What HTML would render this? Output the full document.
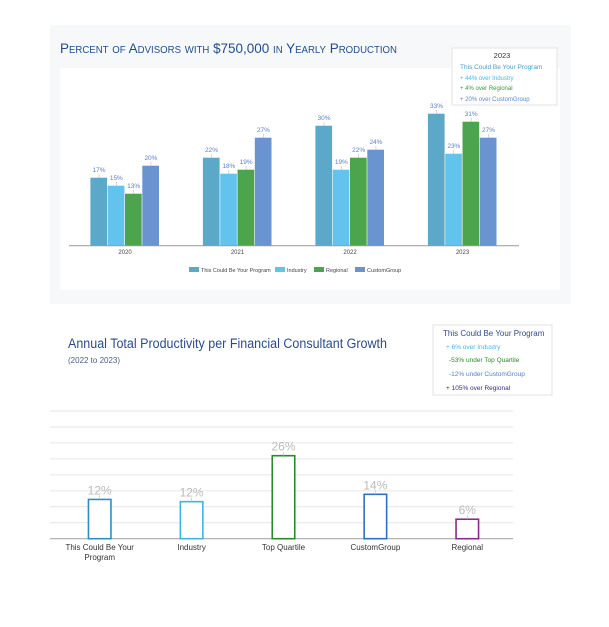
<!DOCTYPE html>
<html><head><meta charset="utf-8"><style>
html,body{margin:0;padding:0;background:#fff;width:609px;height:627px;overflow:hidden}
svg{display:block;font-family:"Liberation Sans",sans-serif}
</style></head><body>
<svg width="609" height="627" viewBox="0 0 609 627" xmlns="http://www.w3.org/2000/svg">
<g>
<rect x="50" y="25" width="521" height="279" fill="#f7f8f9"/>
<rect x="60" y="68" width="500" height="222" fill="#fff"/>
<text x="60" y="53" font-size="14" fill="#1f4e8c" style="font-variant:small-caps" textLength="337" lengthAdjust="spacingAndGlyphs">Percent of Advisors with $750,000 in Yearly Production</text>
<g>
<rect x="452" y="48" width="105" height="57" fill="#fff" stroke="#e3e3e3"/>
<text x="502" y="58" font-size="7.5" fill="#333" text-anchor="middle">2023</text>
<text x="460" y="69" font-size="6.5" fill="#4a9cc6">This Could Be Your Program</text>
<text x="460" y="80" font-size="6" fill="#45b7e6">+ 44% over Industry</text>
<text x="460" y="90" font-size="6" fill="#3a9a3a">+ 4% over Regional</text>
<text x="460" y="101" font-size="6" fill="#5b88cc">+ 20% over CustomGroup</text>
</g>
<g id="topChart"></g>
<g>
<rect x="189" y="267" width="10" height="5" fill="#5ba8c8"/><text x="201" y="272" font-size="5.5" fill="#444">This Could Be Your Program</text>
<rect x="275" y="267" width="10" height="5" fill="#62c4ec"/><text x="287" y="272" font-size="5.5" fill="#444">Industry</text>
<rect x="314" y="267" width="10" height="5" fill="#4ca54c"/><text x="326" y="272" font-size="5.5" fill="#444">Regional</text>
<rect x="355" y="267" width="10" height="5" fill="#6994d0"/><text x="367" y="272" font-size="5.5" fill="#444">CustomGroup</text>
</g>
</g>
<g>
<text x="68" y="348" font-size="13.5" fill="#2a4d8a" textLength="319" lengthAdjust="spacingAndGlyphs">Annual Total Productivity per Financial Consultant Growth</text>
<text x="68" y="363" font-size="8" fill="#4a5f8a">(2022 to 2023)</text>
<g>
<rect x="433" y="325" width="119" height="70" fill="#fff" stroke="#e3e3e3"/>
<text x="443" y="336" font-size="8" fill="#2a4d8a">This Could Be Your Program</text>
<text x="446" y="349" font-size="6.5" fill="#45b7e6">+ 6% over Industry</text>
<text x="449" y="362" font-size="6.5" fill="#2a8a2a">-53% under Top Quartile</text>
<text x="449" y="376" font-size="6.5" fill="#5b7cc6">-12% under CustomGroup</text>
<text x="446" y="390" font-size="6.5" fill="#3a2a8a">+ 105% over Regional</text>
</g>
<g id="botChart"></g>
</g>
</svg>
<script>
// Top chart data
const topYears = ["2020","2021","2022","2023"];
const topSeriesNames = ["This Could Be Your Program","Industry","Regional","CustomGroup"];
const topProgram = [17,22,30,33];
const topIndustry = [15,18,19,23];
const topRegional = [13,19,22,31];
const topCustom = [20,27,24,27];
// Bottom chart data
const botCategories = [["This Could Be Your","Program"],["Industry"],["Top Quartile"],["CustomGroup"],["Regional"]];
const botValues = [12.3,11.6,26,13.9,6.1];
const botLabels = ["12%","12%","26%","14%","6%"];
const botGridTicks = [0,5,10,15,20,25,30,35,40];

const NS="http://www.w3.org/2000/svg";
function mk(tag,attrs,parent){const e=document.createElementNS(NS,tag);for(const k in attrs)e.setAttribute(k,attrs[k]);parent.appendChild(e);return e;}

// top axes
const tBase=245.7, tScale=4.0;
const tY=v=>tBase-v*tScale;
const tX=i=>125+i*112.5;
const tg=document.getElementById('topChart');
const tSeries=[topProgram,topIndustry,topRegional,topCustom];
const tColors=["#5ba8c8","#62c4ec","#4ca54c","#6994d0"];
const bw=17.3;
tSeries.forEach((s,si)=>{
  s.forEach((v,i)=>{
    const x=tX(i)-2*bw+si*bw;
    const r=mk('rect',{x:x,y:tY(v),width:bw-0.6,height:tBase-tY(v),fill:tColors[si]},tg);
    
    
    mk('line',{x1:x+bw/2,x2:x+bw/2,y1:tY(v)-4,y2:tY(v),stroke:'#bbb','stroke-width':0.6},tg);
    const t=mk('text',{x:x+bw/2,y:tY(v)-5.5,'font-size':6.5,fill:'#5a7fc8','text-anchor':'middle'},tg);
    t.textContent=v+'%';
    
    
  });
});
const ax=mk('line',{x1:69,x2:519,y1:tBase,y2:tBase,stroke:'#999','stroke-width':1},tg);


topYears.forEach((y,i)=>{
  const t=mk('text',{x:tX(i),y:254,'font-size':6,fill:'#444','text-anchor':'middle'},tg);
  t.textContent=y;
  
  
});

// bottom axes
const bBase=538.7, bScale=127.7/40;
const bY=v=>bBase-v*bScale;
const bX=i=>99.7+i*91.9;
const bg=document.getElementById('botChart');
botGridTicks.forEach(v=>{
  const l=mk('line',{x1:50,x2:513,y1:bY(v),y2:bY(v),stroke:v===0?'#aaa':'#e6e6e6','stroke-width':v===0?1.2:1},bg);
  
  
});
const bColors=["#2a8fc0","#3eb4e4","#2a8a2a","#2f6fc4","#8a2a8a"];
botValues.forEach((v,i)=>{
  const w=22.5,x=bX(i)-w/2;
  const r=mk('rect',{x:x,y:bY(v),width:w,height:bBase-bY(v),fill:'#fff',stroke:bColors[i],'stroke-width':1.6},bg);
  
  
  mk('line',{x1:bX(i),x2:bX(i),y1:bY(v)-4,y2:bY(v),stroke:'#bbb','stroke-width':0.6},bg);
  const t=mk('text',{x:bX(i),y:bY(v)-5,'font-size':12,fill:'#bbb','text-anchor':'middle'},bg);
  t.textContent=botLabels[i];
  
  
  botCategories[i].forEach((line,j)=>{
    const c=mk('text',{x:bX(i),y:550+j*10,'font-size':8,fill:'#333','text-anchor':'middle'},bg);
    c.textContent=line;
    
    
  });
});
</script>
</body></html>
